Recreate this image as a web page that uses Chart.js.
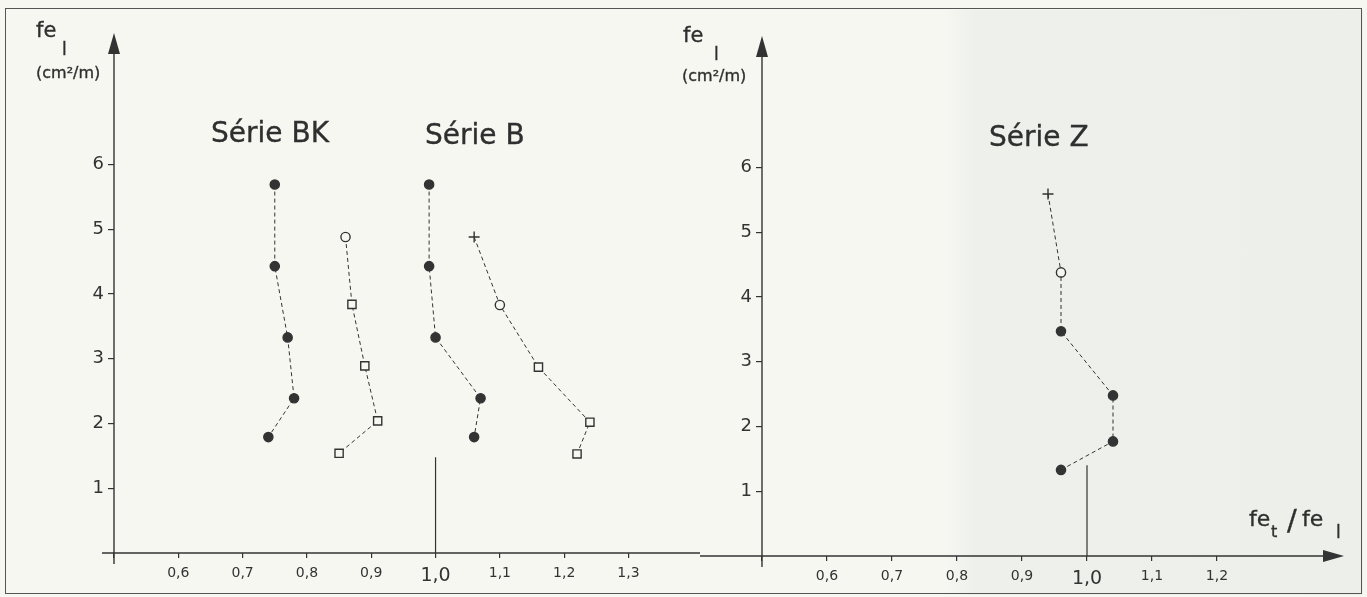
<!DOCTYPE html>
<html>
<head>
<meta charset="utf-8">
<script src="https://cdn.jsdelivr.net/npm/chart.js@4.4.1/dist/chart.umd.min.js"></script>
<style>
  html, body { margin: 0; padding: 0; background: #f7f7f2; }
  #page { position: relative; width: 1367px; height: 597px; overflow: hidden; background: #f7f7f2; }
  #patch { position: absolute; left: 945px; top: 10px; width: 418px; height: 585px;
           background: linear-gradient(90deg, rgba(236,239,233,0) 0px, #eef0eb 30px, #edefea 100%); }
  #frame { position: absolute; left: 5px; top: 8px; width: 1357px; height: 586px; border: 1.5px solid #555; box-sizing: border-box; }
  canvas { position: absolute; top: 0; }
  .t { position: absolute; color: #2f2f2f; font-family: "DejaVu Sans", sans-serif; line-height: 1; white-space: nowrap;
       -webkit-text-stroke: 0.35px #2f2f2f; }
</style>
</head>
<body>
<div id="page">
  <div id="patch"></div>
  <div id="frame"></div>
  <canvas id="chartLeft" width="700" height="597" style="left:0"></canvas>
  <canvas id="chartRight" width="667" height="597" style="left:700px"></canvas>

  <!-- libellés des axes -->
  <div class="t" style="left:36px;top:20px;font-size:21px">fe</div>
  <div class="t" style="left:62px;top:41px;font-size:17px">l</div>
  <div class="t" style="left:36px;top:65px;font-size:16px">(cm²/m)</div>

  <div class="t" style="left:683px;top:25px;font-size:21px">fe</div>
  <div class="t" style="left:714px;top:46px;font-size:17px">l</div>
  <div class="t" style="left:682px;top:68px;font-size:16px">(cm²/m)</div>

  <div class="t" style="left:1249px;top:508px;font-size:22px">fe</div>
  <div class="t" style="left:1271px;top:524px;font-size:16px">t</div>
  <div class="t" style="left:1287px;top:506px;font-size:29px">/</div>
  <div class="t" style="left:1302px;top:508px;font-size:22px">fe</div>
  <div class="t" style="left:1336px;top:524px;font-size:17px">l</div>

  <!-- titres des séries -->
  <div class="t" style="left:211px;top:119px;font-size:28px">Série BK</div>
  <div class="t" style="left:425px;top:121px;font-size:28px">Série B</div>
  <div class="t" style="left:989px;top:123px;font-size:28px">Série Z</div>
</div>

<script>
/* =====================================
   DONNEES
   ===================================== */
// Série BK
const bkDotsX = [0.75, 0.75, 0.77, 0.78, 0.74];
const bkDotsY = [5.69, 4.43, 3.33, 2.39, 1.79];
const bkOpenX = [0.86, 0.87, 0.89, 0.91, 0.85];
const bkOpenY = [4.88, 3.84, 2.89, 2.04, 1.54];
const bkOpenMarks = ["ring", "box", "box", "box", "box"];

// Série B
const bDotsX = [0.99, 0.99, 1.00, 1.07, 1.06];
const bDotsY = [5.69, 4.43, 3.33, 2.39, 1.79];
const bOpenX = [1.06, 1.10, 1.16, 1.24, 1.22];
const bOpenY = [4.88, 3.83, 2.87, 2.02, 1.53];
const bOpenMarks = ["plus", "ring", "box", "box", "box"];

// Série Z
const zX = [0.94, 0.96, 0.96, 1.04, 1.04, 0.96];
const zY = [5.59, 4.38, 3.47, 2.48, 1.77, 1.33];
const zMarks = ["plus", "ring", "dot", "dot", "dot", "dot"];

// repère vertical fe_t/fe_l = 1,0
const refX = [1.0, 1.0];
const refYLeft = [0, 1.48];
const refYRight = [0, 1.40];

// graduations
const yTickVals = [1, 2, 3, 4, 5, 6];
const xTickValsLeft = [0.5, 0.6, 0.7, 0.8, 0.9, 1.0, 1.1, 1.2, 1.3];
const xTickLabelsLeft = ["", "0,6", "0,7", "0,8", "0,9", "1,0", "1,1", "1,2", "1,3"];
const xTickValsRight = [0.5, 0.6, 0.7, 0.8, 0.9, 1.0, 1.1, 1.2];
const xTickLabelsRight = ["", "0,6", "0,7", "0,8", "0,9", "1,0", "1,1", "1,2"];

/* =====================================
   STYLE
   ===================================== */
const INK = "#333333";
const PAPER = "#f7f7f2";
const FONT = "'DejaVu Sans', sans-serif";

function pts(xs, ys) {
    return xs.map((x, i) => ({ x: x, y: ys[i] }));
}

function markerDataset(xs, ys, marks) {
    return {
        data: pts(xs, ys),
        showLine: true,
        borderColor: INK,
        borderWidth: 1,
        borderDash: [4, 3],
        pointStyle: marks.map(m => m === "box" ? "rect" : (m === "plus" ? "cross" : "circle")),
        pointRadius: marks.map(m => m === "box" ? 5.8 : (m === "plus" ? 5.5 : 4.6)),
        pointBackgroundColor: marks.map(m => m === "dot" ? INK : PAPER),
        pointBorderColor: INK,
        pointBorderWidth: 1.4
    };
}

function refDataset(ys) {
    return {
        data: pts(refX, ys),
        showLine: true,
        borderColor: INK,
        borderWidth: 1.2,
        pointRadius: 0
    };
}

// axes dessinés à la main (flèches, prolongement de l'axe x)
const axesPlugin = {
    id: "axes",
    afterDraw(chart, args, opts) {
        const ctx = chart.ctx;
        const a = chart.chartArea;
        const x0 = chart.scales.x.getPixelForValue(0.5);
        const y0 = chart.scales.y.getPixelForValue(0);
        ctx.save();
        ctx.strokeStyle = INK;
        ctx.fillStyle = INK;
        ctx.lineWidth = 1.4;
        // axe x
        ctx.beginPath();
        if (opts.arrow) {
            ctx.moveTo(0, y0);
            ctx.lineTo(a.right - 20, y0);
        } else {
            ctx.moveTo(x0 - 12, y0);
            ctx.lineTo(chart.width, y0);
        }
        ctx.stroke();
        if (opts.arrow) {
            ctx.beginPath();
            ctx.moveTo(a.right - 3, y0);
            ctx.lineTo(a.right - 24, y0 - 6);
            ctx.lineTo(a.right - 24, y0 + 6);
            ctx.closePath();
            ctx.fill();
        }
        // axe y
        ctx.beginPath();
        ctx.moveTo(x0, y0 + 11);
        ctx.lineTo(x0, a.top + 16);
        ctx.stroke();
        ctx.beginPath();
        ctx.moveTo(x0, a.top - 2);
        ctx.lineTo(x0 - 6, a.top + 19);
        ctx.lineTo(x0 + 6, a.top + 19);
        ctx.closePath();
        ctx.fill();
        ctx.restore();
    }
};

function makeChart(id, datasets, xVals, xLabels, pad, xHeight, arrow) {
    return new Chart(document.getElementById(id), {
        type: "scatter",
        data: { datasets: datasets },
        plugins: [axesPlugin],
        options: {
            responsive: false,
            animation: false,
            layout: { padding: pad },
            plugins: {
                legend: { display: false },
                tooltip: { enabled: false },
                axes: { arrow: arrow }
            },
            scales: {
                x: {
                    type: "linear",
                    min: 0.5,
                    max: 1.4,
                    afterBuildTicks: s => { s.ticks = xVals.map(v => ({ value: v })); },
                    afterFit: s => { s.height = xHeight; s.paddingLeft = 0; s.paddingRight = 0; },
                    border: { display: false },
                    grid: { drawOnChartArea: false, drawTicks: true, tickLength: 5, color: INK, lineWidth: 1.2 },
                    ticks: {
                        autoSkip: false,
                        maxRotation: 0,
                        padding: 7,
                        color: INK,
                        font: c => ({ family: FONT, size: (c.tick && c.tick.value === 1) ? 19 : 14 }),
                        callback: (v, i) => xLabels[i]
                    }
                },
                y: {
                    type: "linear",
                    min: 0,
                    max: 8,
                    afterBuildTicks: s => { s.ticks = yTickVals.map(v => ({ value: v })); },
                    afterFit: s => { s.width = 40; s.paddingTop = 0; s.paddingBottom = 0; },
                    border: { display: false },
                    grid: { drawOnChartArea: false, drawTicks: true, tickLength: 6, color: INK, lineWidth: 1.2 },
                    ticks: {
                        padding: 4,
                        color: INK,
                        font: { family: FONT, size: 18 },
                        callback: v => String(v)
                    }
                }
            }
        }
    });
}

const chartLeft = makeChart("chartLeft", [
    refDataset(refYLeft),
    markerDataset(bkDotsX, bkDotsY, bkDotsX.map(() => "dot")),
    markerDataset(bkOpenX, bkOpenY, bkOpenMarks),
    markerDataset(bDotsX, bDotsY, bDotsX.map(() => "dot")),
    markerDataset(bOpenX, bOpenY, bOpenMarks)
], xTickValsLeft, xTickLabelsLeft, { left: 74, right: 1, top: 35, bottom: 0 }, 44, false);

const chartRight = makeChart("chartRight", [
    refDataset(refYRight),
    markerDataset(zX, zY, zMarks)
], xTickValsRight, xTickLabelsRight, { left: 22, right: 20, top: 38, bottom: 0 }, 41, true);
</script>
</body>
</html>
